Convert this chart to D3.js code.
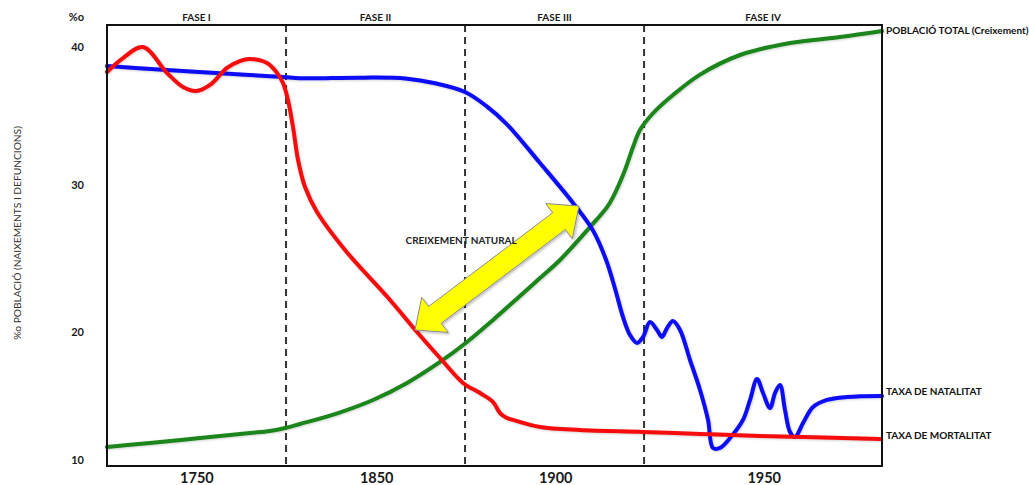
<!DOCTYPE html>
<html><head><meta charset="utf-8">
<script src="https://cdn.jsdelivr.net/npm/d3@7"></script>
<style>
html,body{margin:0;padding:0;background:#fff;}
svg{display:block;font-family:Lato,"Open Sans",sans-serif;}
</style></head><body>
<svg id="chart" width="1029" height="485"></svg>
<script>
// ---- data (schematic time units 0..100 across the plot, values in ‰) ----
const phaseLabels = ["FASE I", "FASE II", "FASE III", "FASE IV"];
const phaseBounds = [23.1, 46.2, 69.3];
const xTickValues = [11.6, 34.8, 57.9, 84.8];
const xTickLabels = ["1750", "1850", "1900", "1950"];
const yTickValues = [10, 20, 30, 40];
const yTickLabels = ["10", "20", "30", "40"];

const natalitat = [
  [0,38.62],[7.74,38.33],[16.26,38.04],[22.71,37.83],[24.9,37.74],[32.65,37.78],[38.5,37.72],
  [42.5,37.35],[46.19,36.74],[49.0,35.7],[51.61,34.4],[55.87,31.59],[60.13,28.78],[62.71,26.9],
  [64.4,24.9],[65.6,22.86],[66.58,21.02],[67.48,19.77],[68.39,19.14],[69.16,19.61],[70.06,20.68],
  [70.97,20.14],[71.61,19.61],[72.26,20.27],[73.03,20.75],[73.94,20.14],[75.23,17.81],[76.52,15.47],
  [77.55,13.13],[78.19,10.94],[79.1,10.94],[80.39,11.72],[82.06,13.13],[82.97,14.69],[83.87,16.33],
  [84.65,15.23],[85.55,14.06],[86.19,15.23],[86.84,15.86],[87.48,13.91],[88.13,12.19],[88.77,11.8],
  [89.81,12.89],[91.1,14.14],[92.9,14.69],[95.48,14.92],[100,15.0]
];
const mortalitat = [
  [0,38.19],[2.06,39.2],[4.65,40.0],[7.74,38.12],[9.81,37.1],[11.48,36.81],[13.29,37.25],
  [15.48,38.48],[17.2,38.99],[18.32,39.13],[20.65,38.84],[21.94,38.12],[22.71,37.39],[23.35,36.16],
  [24.0,34.2],[24.65,31.81],[25.55,29.86],[27.1,28.16],[30.71,25.58],[36.52,22.18],[40.0,20.0],
  [42.97,17.97],[45.94,16.02],[48.13,15.23],[49.81,14.53],[50.71,13.67],[51.6,13.28],[52.39,13.13],
  [55.87,12.58],[61.03,12.34],[69.16,12.19],[76.52,12.03],[84.26,11.88],[99.74,11.64]
];
const poblacio = [
  [0,11.02],[5.55,11.33],[12.0,11.72],[18.45,12.11],[21.0,12.27],[23.0,12.5],[24.9,12.81],[29.81,13.67],
  [34.32,14.69],[38.71,16.02],[42.97,17.66],[46.45,19.22],[49.81,20.82],[53.29,22.45],[55.87,23.67],
  [58.45,24.9],[62.32,27.14],[64.52,28.5],[65.29,29.18],[66.84,31.09],[67.87,32.75],[68.77,33.99],
  [70.45,35.2],[73.03,36.52],[76.52,38.0],[81.68,39.42],[88.13,40.29],[94.58,40.72],[100,41.16]
];
const seriesLabels = ["POBLACIÓ TOTAL (Creixement)", "TAXA DE NATALITAT", "TAXA DE MORTALITAT"];
const arrowFrom = [39.74, 20.14];
const arrowTo = [60.9, 28.57];
const arrowLabel = "CREIXEMENT NATURAL";
const arrowLabelAt = [45.7, 26.2];

// ---- layout ----
const L = 107, R = 882, T = 25, B = 466;
const svg = d3.select("#chart");
const x = d3.scaleLinear().domain([0, 100]).range([L, R]);
const y = d3.scaleLinear().domain([10, 20, 30, 40]).range([460, 332, 185, 47]);

const defs = svg.append("defs");
const f = defs.append("filter").attr("id","sh").attr("x","-10%").attr("y","-10%").attr("width","130%").attr("height","130%");
f.append("feDropShadow").attr("dx",1.5).attr("dy",1.5).attr("stdDeviation",1.2).attr("flood-color","#000").attr("flood-opacity",0.25);
const fl = defs.append("filter").attr("id","ls").attr("x","-5%").attr("y","-5%").attr("width","110%").attr("height","110%");
fl.append("feDropShadow").attr("dx",0.8).attr("dy",0.8).attr("stdDeviation",0.8).attr("flood-color","#000").attr("flood-opacity",0.2);

// phase dashed lines
svg.append("g").selectAll("line").data(phaseBounds).join("line")
  .attr("x1", d => x(d)).attr("x2", d => x(d)).attr("y1", T).attr("y2", B)
  .attr("stroke", "#333").attr("stroke-width", 2).attr("stroke-dasharray", "7,5");

// phase labels
const edges = [0, ...phaseBounds, 100];
svg.append("g").selectAll("text").data(phaseLabels).join("text")
  .attr("x", (d, i) => x((edges[i] + edges[i + 1]) / 2)).attr("y", 21)
  .attr("text-anchor", "middle").attr("font-size", 10).attr("font-weight", "bold").attr("fill", "#1a1a1a")
  .text(d => d);

// y ticks
svg.append("g").selectAll("text").data(yTickValues).join("text")
  .attr("x", 84).attr("y", d => y(d)).attr("dy", "0.36em")
  .attr("text-anchor", "end").attr("font-size", 11).attr("font-weight", "bold").attr("fill", "#1a1a1a")
  .text((d, i) => yTickLabels[i]);
svg.append("text").attr("x", 84).attr("y", 21).attr("text-anchor", "end")
  .attr("font-size", 11).attr("font-weight", "bold").attr("fill", "#1a1a1a").text("%o");

// x ticks
svg.append("g").selectAll("text").data(xTickValues).join("text")
  .attr("x", d => x(d)).attr("y", 483)
  .attr("text-anchor", "middle").attr("font-size", 14.5).attr("font-weight", "bold").attr("fill", "#1a1a1a")
  .text((d, i) => xTickLabels[i]);

// y axis title
svg.append("text").attr("transform", "translate(21,233) rotate(-90)")
  .attr("text-anchor", "middle").attr("font-size", 10.2).attr("fill", "#333")
  .text("%o POBLACIÓ (NAIXEMENTS I DEFUNCIONS)");

// lines
const line = d3.line().x(d => x(d[0])).y(d => y(d[1])).curve(d3.curveCatmullRom.alpha(0.5));
const g = svg.append("g").attr("filter", "url(#ls)");
g.append("path").attr("d", line(poblacio)).attr("fill", "none").attr("stroke", "#1a861a").attr("stroke-width", 4).attr("stroke-linecap","round");
g.append("path").attr("d", line(natalitat)).attr("fill", "none").attr("stroke", "#0a0af5").attr("stroke-width", 4).attr("stroke-linecap","round").attr("stroke-linejoin","round");
g.append("path").attr("d", line(mortalitat)).attr("fill", "none").attr("stroke", "#f50a0a").attr("stroke-width", 4).attr("stroke-linecap","round").attr("stroke-linejoin","round");

// frame
svg.append("rect").attr("x", L).attr("y", T).attr("width", R - L).attr("height", B - T)
  .attr("fill", "none").attr("stroke", "#111").attr("stroke-width", 2);

// series labels at right
const labY = [poblacio[poblacio.length - 1][1], natalitat[natalitat.length - 1][1], mortalitat[mortalitat.length - 1][1] + 0.3];
svg.append("g").selectAll("text").data(seriesLabels).join("text")
  .attr("x", R + 4).attr("y", (d, i) => y(labY[i])).attr("dy", (d, i) => i === 0 ? "0.35em" : (i===1 ? "-0.1em" : "0.35em"))
  .attr("font-size", 10).attr("font-weight", "bold").attr("fill", "#111")
  .text(d => d);

// yellow double arrow
const p0 = [x(arrowFrom[0]), y(arrowFrom[1])], p1 = [x(arrowTo[0]), y(arrowTo[1])];
const dx = p1[0] - p0[0], dy = p1[1] - p0[1], len = Math.hypot(dx, dy);
const u = [dx / len, dy / len], n = [-u[1], u[0]];
const hl = 25, hw = 22, sw = 10.5;
const P = (base, along, side) => [base[0] + u[0] * along + n[0] * side, base[1] + u[1] * along + n[1] * side];
const pts = [
  p0, P(p0, hl, hw), P(p0, hl, sw), P(p1, -hl, sw), P(p1, -hl, hw),
  p1, P(p1, -hl, -hw), P(p1, -hl, -sw), P(p0, hl, -sw), P(p0, hl, -hw)
];
svg.append("path").attr("d", "M" + pts.map(p => p.join(",")).join("L") + "Z")
  .attr("fill", "#ffff00").attr("stroke", "#8c8c8c").attr("stroke-width", 1).attr("filter", "url(#sh)");

svg.append("text").attr("x", x(arrowLabelAt[0])).attr("y", y(arrowLabelAt[1])).attr("dy","0.35em")
  .attr("text-anchor", "middle").attr("font-size", 10).attr("font-weight", "bold").attr("fill", "#222")
  .text(arrowLabel);
</script>
</body></html>
